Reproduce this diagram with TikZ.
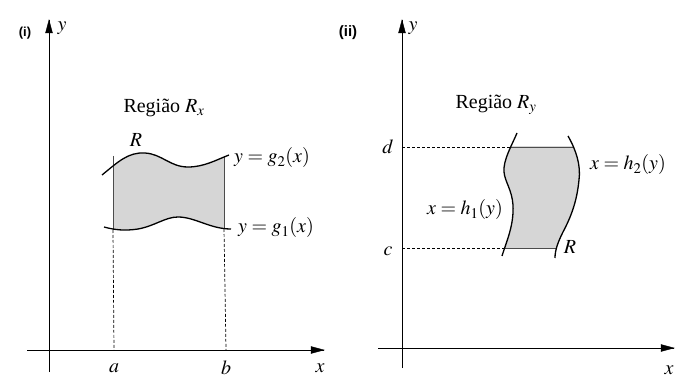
\documentclass[tikz,border=0pt]{standalone}
\usepackage{mathptmx}
\usepackage{fontspec}
\setmainfont{Liberation Serif}
\setsansfont{Liberation Sans}
\usetikzlibrary{arrows.meta, positioning}

\begin{document}
\begin{tikzpicture}[x=1pt, y=-1pt,
  every node/.style={font=\fontsize{20}{23}\selectfont, inner sep=1pt},
  axisline/.style={line width=0.7pt},
  tiphead/.style={fill=black, draw=black, line width=0.4pt},
  curve/.style={line width=1.3pt},
  rim/.style={line width=0.5pt, gray!60!black},
  guide/.style={line width=0.7pt, dash pattern=on 3pt off 2pt},
  region/.style={fill=gray!32},
  tag/.style={font=\sffamily\bfseries\fontsize{13}{15}\selectfont},
]
\useasboundingbox (0,0) rectangle (675,382);

% ---- Panel (i): region of type x ----
\coordinate (yLlow) at (49,372);
\coordinate (yLtop) at (49,20);
\coordinate (xLlow) at (27,350);
\coordinate (xLtop) at (324,350);
\draw[axisline] (yLlow) -- (yLtop);
\draw[axisline] (xLlow) -- (xLtop);
\filldraw[tiphead] (yLtop) -- ++(-3.5,13) -- ++(7,0) -- cycle;
\filldraw[tiphead] (xLtop) -- ++(-13,-3.5) -- ++(0,7) -- cycle;

\node[tag] (tagi) at (25,33) {(i)};
\node (yL) at (62,28) {$y$};
\node (xL) at (320,368) {$x$};
\node (a) at (114,368) {$a$};
\node (b) at (226,368) {$b$};
\node (titleL) at (164,108) {Região $R_x$};
\node (RL) at (136,140) {$R$};

% shaded part between x=a and x=b
\begin{scope}
  \clip (113,140) rectangle (224,240);
  \fill[region] (102,175) .. controls (118,162) and (128,152) .. (145,153)
    .. controls (162,154) and (170,167) .. (188,167)
    .. controls (204,167) and (216,160) .. (229,155)
    -- (231,229) .. controls (210,229) and (195,217) .. (178,217)
    .. controls (165,217) and (155,226) .. (138,229)
    .. controls (125,231) and (115,230) .. (104,227) -- cycle;
\end{scope}

\coordinate (aTop) at (113,156);
\coordinate (aCut) at (113,230);
\coordinate (bTop) at (224,156);
\coordinate (bCut) at (224,229);
\draw[rim] (aTop) -- (aCut);
\draw[rim] (bTop) -- (bCut);
\draw[guide] (aCut) -- (a.north |- xLlow);
\draw[guide] (bCut) -- (b.north |- xLlow);

% g_2 above, g_1 below
\draw[curve] (102,175) .. controls (118,162) and (128,152) .. (145,153)
  .. controls (162,154) and (170,167) .. (188,167)
  .. controls (204,167) and (216,160) .. (229,155);
\draw[curve] (104,227) .. controls (115,230) and (125,231) .. (138,229)
  .. controls (155,226) and (165,217) .. (178,217)
  .. controls (195,217) and (210,229) .. (231,229);

\node[anchor=west] (g2) at (233,158) {$y = g_2(x)$};
\node[anchor=west] (g1) at (237,228) {$y = g_1(x)$};

% ---- Panel (ii): region of type y ----
\coordinate (yRlow) at (402,368);
\coordinate (yRtop) at (402,20);
\coordinate (xRlow) at (378,348);
\coordinate (xRtop) at (674,348);
\draw[axisline] (yRlow) -- (yRtop);
\draw[axisline] (xRlow) -- (xRtop);
\filldraw[tiphead] (yRtop) -- ++(-3.5,13) -- ++(7,0) -- cycle;
\filldraw[tiphead] (xRtop) -- ++(-13,-3.5) -- ++(0,7) -- cycle;

\node[tag, font=\sffamily\bfseries\fontsize{15}{17}\selectfont] (tagii) at (348,33) {(ii)};
\node (yR) at (413,28) {$y$};
\node (xR) at (669,370) {$x$};
\node (d) at (388,147) {$d$};
\node (c) at (388,251) {$c$};
\node (titleR) at (496,105) {Região $R_y$};
\node (RR) at (570,247) {$R$};

% shaded part between y=c and y=d
\begin{scope}
  \clip (480,147) rectangle (600,248);
  \fill[region] (517,133) .. controls (512,145) and (503,160) .. (504,172)
    .. controls (505,182) and (512,190) .. (513,205)
    .. controls (514,225) and (507,240) .. (502,256)
    -- (555,258) .. controls (555,250) and (558,242) .. (563,232)
    .. controls (572,215) and (577,200) .. (579,180)
    .. controls (581,165) and (576,150) .. (568,136) -- cycle;
\end{scope}

\coordinate (dLeft) at (511,147);
\coordinate (dRight) at (573,147);
\coordinate (cLeft) at (504.6,248);
\coordinate (cRight) at (556.4,248);
\draw[guide] (yRlow |- d) -- (dLeft);
\draw[guide] (yRlow |- cLeft) -- (cLeft);
\draw[rim] (dLeft) -- (dRight);
\draw[rim] (cLeft) -- (cRight);

% h_1 on the left, h_2 on the right
\draw[curve] (517,133) .. controls (512,145) and (503,160) .. (504,172)
  .. controls (505,182) and (512,190) .. (513,205)
  .. controls (514,225) and (507,240) .. (502,256);
\draw[curve] (568,136) .. controls (576,150) and (581,165) .. (579,180)
  .. controls (577,200) and (572,215) .. (563,232)
  .. controls (558,242) and (555,250) .. (555,258);

\node[anchor=west] (h2) at (589,165) {$x = h_2(y)$};
\node[anchor=west] (h1) at (426,210) {$x = h_1(y)$};

\end{tikzpicture}
\end{document}
